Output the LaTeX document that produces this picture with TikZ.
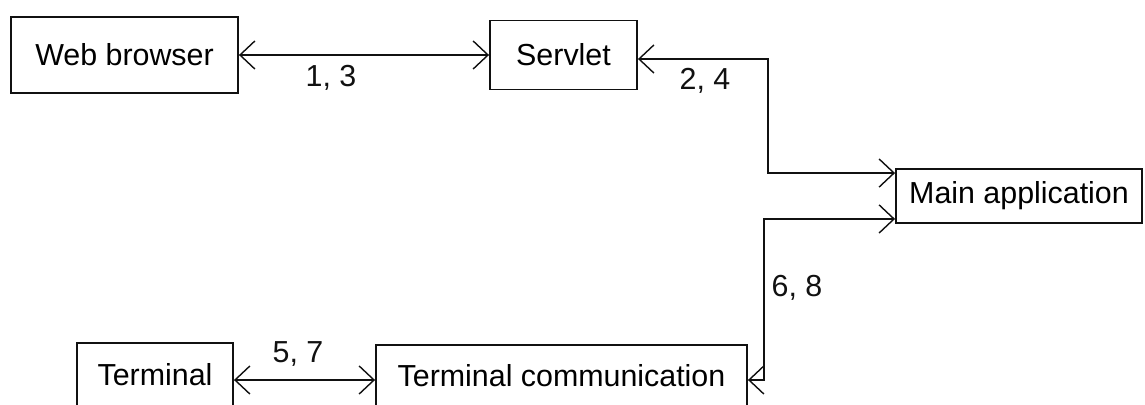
\documentclass[tikz,border=0pt]{standalone}
\usepackage{fontspec}
\setmainfont{Liberation Sans}
\usetikzlibrary{arrows.meta}
\usepackage{xcolor}
\definecolor{DiagBlack}{HTML}{111111}
\definecolor{DiagWhite}{HTML}{ffffff}
\tikzset{
    % Box styles - plain sharp rectangles
    component/.style={
        rectangle,
        draw=DiagBlack,
        fill=DiagWhite,
        line width=1.1pt,
        inner sep=0pt,
        align=center,
        font=\fontsize{17.3}{20}\selectfont
    },
    numlabel/.style={
        inner sep=0pt,
        text=DiagBlack,
        font=\fontsize{17.3}{20}\selectfont
    },
    % Arrow styles - open barbs on both ends
    biarrow/.style={
        {Straight Barb[length=8.5pt,width=16pt,line width=0.8pt]}-{Straight Barb[length=8.5pt,width=16pt,line width=0.8pt]},
        line width=1.1pt,
        draw=DiagBlack
    }
}

\begin{document}
\begin{tikzpicture}[x=0.02cm, y=-0.02cm]
    \useasboundingbox (0,0) rectangle (1145,405);
    \clip (0,0) rectangle (1145,405);
    \fill[DiagWhite] (0,0) rectangle (1145,405);

    \node[component, minimum width=4.54cm, minimum height=1.52cm] (web) at (124.5,55) {Web browser};
    \node[component, minimum width=2.94cm, minimum height=1.38cm] (servlet) at (563.5,55) {Servlet};
    \node[component, minimum width=4.92cm, minimum height=1.08cm] (main) at (1019,196) {Main application};
    \node[component, minimum width=3.12cm, minimum height=1.28cm] (term) at (155,375) {Terminal};
    \node[component, minimum width=7.42cm, minimum height=1.24cm] (comm) at (561.5,376) {Terminal communication};

    \draw[biarrow] (web) -- (servlet);
    \draw[biarrow] ([yshift=-0.08cm]servlet.east) -- ++(130,0) |- ([yshift=-0.1cm]main.north west);
    \draw[biarrow] ([yshift=0.1cm]main.south west) -- ++(-131,0) |- ([yshift=-0.08cm]comm.east);
    \draw[biarrow] ([yshift=-0.1cm]term.east) -- ([yshift=-0.1cm]term.east -| comm.west);

    \node[numlabel] (l13) at (331,78) {1, 3};
    \node[numlabel] (l24) at (705,81) {2, 4};
    \node[numlabel] (l68) at (797,288) {6, 8};
    \node[numlabel] (l57) at (298,354) {5, 7};
\end{tikzpicture}
\end{document}
